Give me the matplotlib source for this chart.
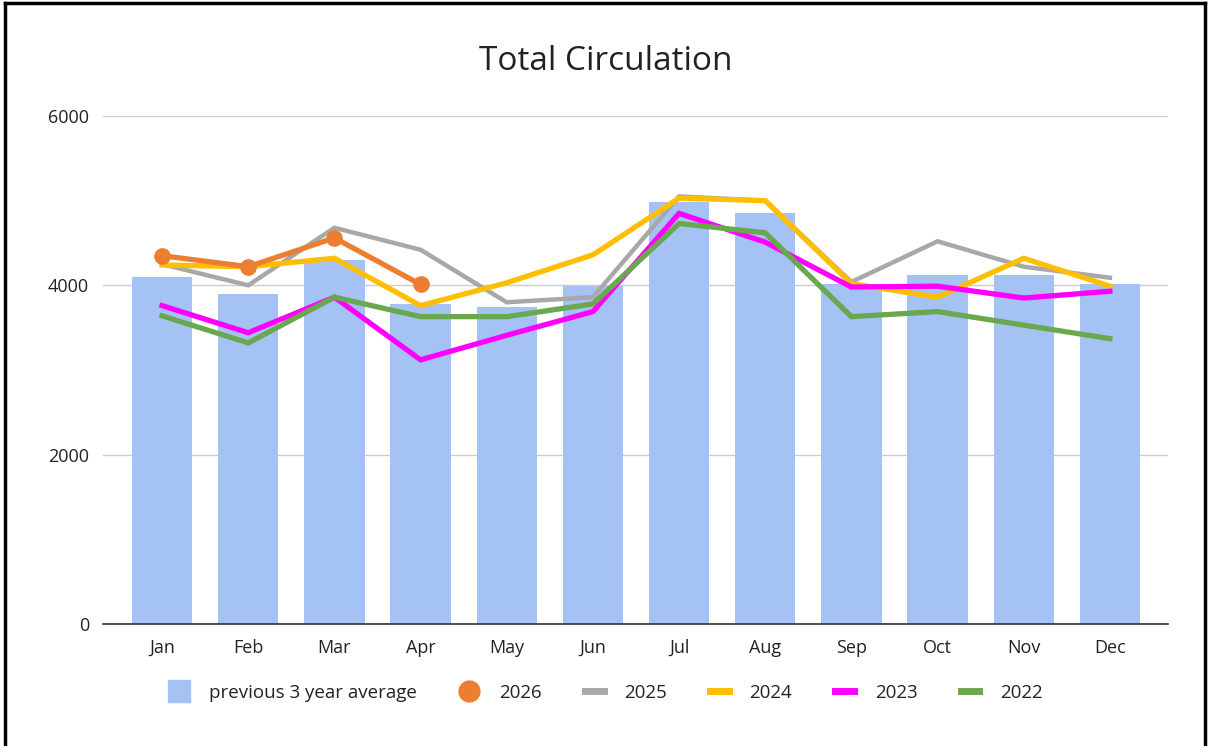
import matplotlib
matplotlib.use("Agg")
import matplotlib.pyplot as plt
from matplotlib.lines import Line2D

plt.rcParams['font.family'] = ['Open Sans', 'DejaVu Sans']

months = ["Jan", "Feb", "Mar", "Apr", "May", "Jun", "Jul", "Aug", "Sep", "Oct", "Nov", "Dec"]
avg3 = [4100, 3900, 4300, 3780, 3750, 3990, 4980, 4850, 4020, 4120, 4120, 4020]
y2026 = [4350, 4220, 4560, 4010]
y2025 = [4250, 4000, 4680, 4420, 3800, 3860, 5050, 5000, 4040, 4520, 4220, 4090]
y2024 = [4240, 4220, 4320, 3760, 4030, 4360, 5030, 5000, 4020, 3860, 4320, 3990]
y2023 = [3760, 3440, 3860, 3120, 3410, 3690, 4850, 4510, 3980, 3990, 3850, 3930]
y2022 = [3640, 3320, 3860, 3630, 3630, 3780, 4730, 4620, 3630, 3690, 3530, 3370]

W, H = 1208, 746
fig = plt.figure(figsize=(W / 100, H / 100), dpi=100)
ax = fig.add_axes([103 / W, 1 - 624 / H, (1168 - 103) / W, (624 - 116) / H])

x = list(range(12))
ax.bar(x, avg3, width=0.70, color="#a4c2f4", zorder=2)
ax.plot(x, y2025, color="#a8a8a8", lw=3.2, zorder=3, solid_joinstyle="miter")
ax.plot(x, y2024, color="#ffbf00", lw=3.8, zorder=4, solid_joinstyle="miter")
ax.plot(x, y2023, color="#ff00ff", lw=3.8, zorder=5, solid_joinstyle="miter")
ax.plot(x, y2022, color="#6aa84f", lw=3.8, zorder=5, solid_joinstyle="miter")
ax.plot(x[:len(y2026)], y2026, color="#ed7d31", lw=3.8, marker="o", ms=11, zorder=6)

ax.set_ylim(0, 6000)
ax.set_yticks([0, 2000, 4000, 6000])
ax.set_xlim(-0.5 - 16 / 86.2, 11.5 + 15 / 86.2)
ax.set_xticks(x)
ax.set_xticklabels(months)
ax.grid(axis="y", color="#cccccc", lw=1, zorder=0)
ax.set_axisbelow(True)
for s in ["top", "right", "left"]:
    ax.spines[s].set_visible(False)
ax.spines["bottom"].set_color("#333333")
ax.spines["bottom"].set_linewidth(1.2)
ax.spines["bottom"].set_zorder(7)
ax.tick_params(axis="both", length=0, labelsize=13, colors="#222222")
ax.tick_params(axis="x", pad=11)
ax.tick_params(axis="y", pad=10)

fig.text(606 / W, 1 - 61 / H, "Total Circulation", ha="center", va="center", fontsize=24, color="#222222")

handles = [
    Line2D([], [], marker="s", ls="none", color="#a4c2f4", ms=16),
    Line2D([], [], marker="o", ls="none", color="#ed7d31", ms=15),
    Line2D([], [], color="#a8a8a8", lw=5),
    Line2D([], [], color="#ffbf00", lw=5),
    Line2D([], [], color="#ff00ff", lw=5),
    Line2D([], [], color="#6aa84f", lw=5),
]
labels = ["previous 3 year average", "2026", "2025", "2024", "2023", "2022"]
fig.legend(handles, labels, loc="center", bbox_to_anchor=(606 / W, 1 - 693 / H), ncol=6,
           frameon=False, fontsize=13.5, handlelength=1.0, columnspacing=2.3, handletextpad=1.1,
           labelcolor="#222222")

# outer border
fig.add_artist(Line2D([5 / W, 5 / W], [0, 1 - 3 / H], transform=fig.transFigure, color="black", lw=2.5))
fig.add_artist(Line2D([5 / W, 1205 / W], [1 - 3 / H, 1 - 3 / H], transform=fig.transFigure, color="black", lw=2.5))
fig.add_artist(Line2D([1205 / W, 1205 / W], [0, 1 - 3 / H], transform=fig.transFigure, color="black", lw=2.5))

fig.savefig("out.png", dpi=100)
